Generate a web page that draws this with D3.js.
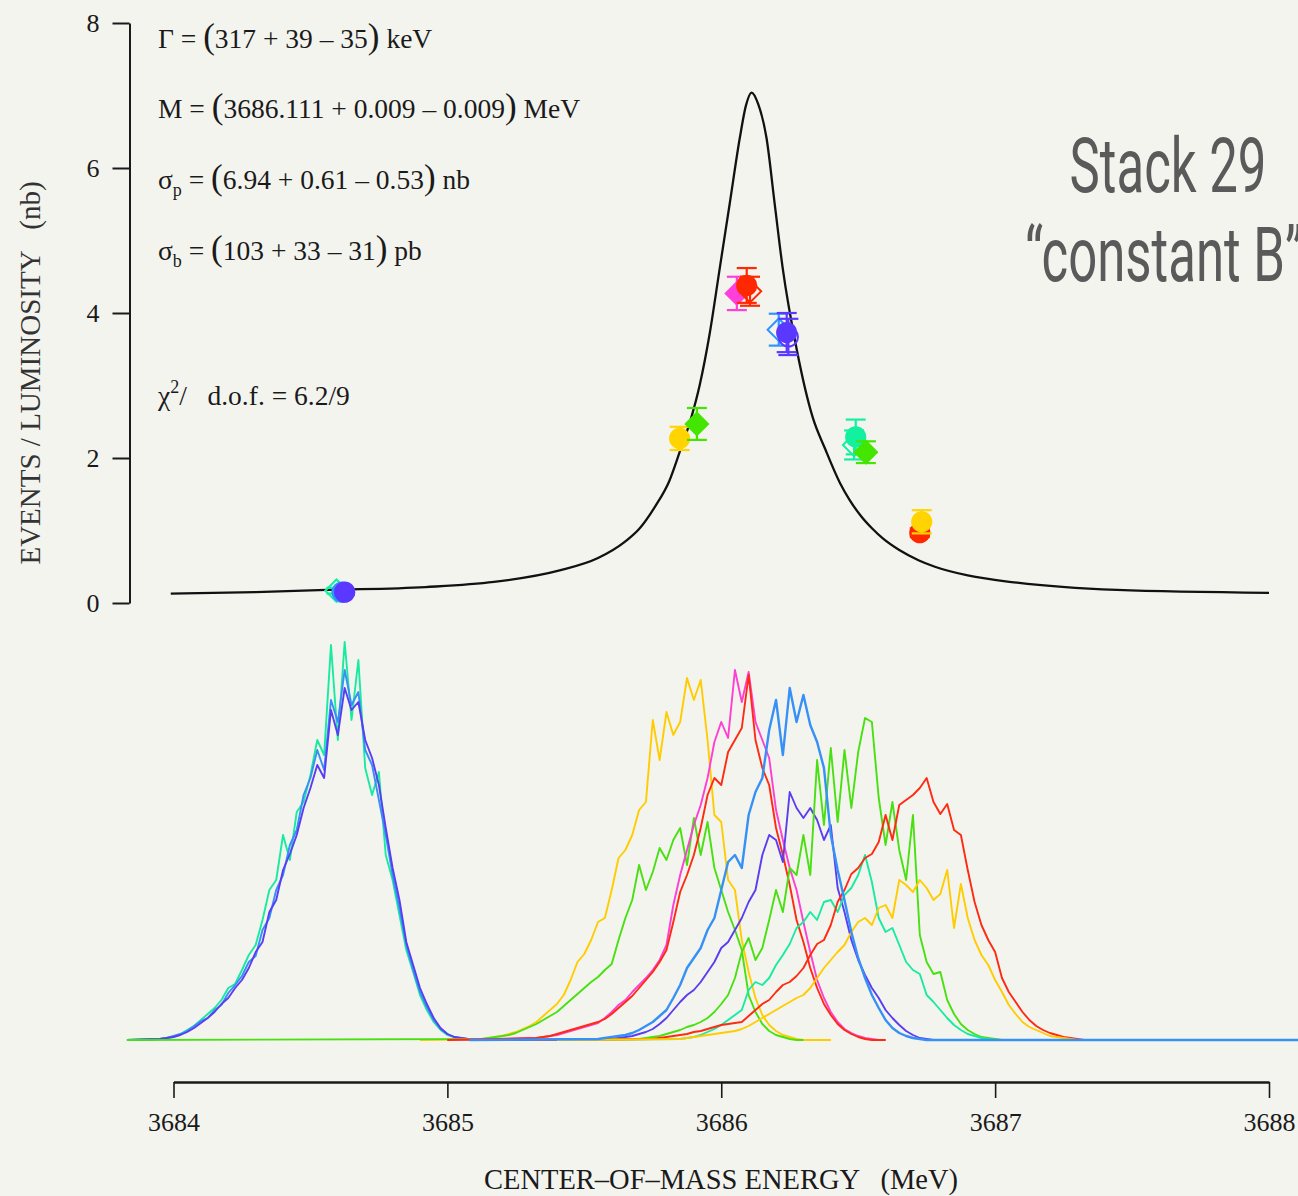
<!DOCTYPE html>
<html>
<head>
<meta charset="utf-8">
<script src="https://cdn.jsdelivr.net/npm/d3@7"></script>
<style>
  html, body { margin: 0; padding: 0; background: #f4f4ef; overflow: hidden; }
  svg { display: block; }
  text { white-space: pre; }
</style>
</head>
<body>
<svg id="chart" width="1298" height="1196"></svg>
<script>
// ---------------- data ----------------
const yTicks = [0, 2, 4, 6, 8];
const xTicks = [3684, 3685, 3686, 3687, 3688];

// fitted line shape (energy in MeV, cross-section in nb)
const fitEnergy = [3683.99, 3684.30, 3684.56, 3684.92, 3685.17, 3685.41, 3685.55, 3685.65, 3685.70,
  3685.76, 3685.81, 3685.848, 3685.89, 3685.921, 3685.958, 3685.995, 3686.031, 3686.068, 3686.09,
  3686.111, 3686.135, 3686.165, 3686.195, 3686.224, 3686.276, 3686.334, 3686.38, 3686.433, 3686.469,
  3686.51, 3686.553, 3686.59, 3686.65, 3686.72, 3686.78, 3686.90, 3687.08, 3687.445, 3688.0];
const fitValue = [0.13, 0.15, 0.18, 0.22, 0.29, 0.45, 0.62, 0.85, 1.02,
  1.34, 1.68, 2.08, 2.55, 3.00, 3.72, 4.63, 5.51, 6.42, 6.86,
  7.04, 6.88, 6.42, 5.51, 4.63, 3.49, 2.56, 2.12, 1.66, 1.42,
  1.20, 1.02, 0.89, 0.73, 0.59, 0.50, 0.38, 0.28, 0.18, 0.14];

// measured points
const pointEnergy = [3684.595, 3684.615, 3684.625, 3685.848, 3685.911, 3686.057, 3686.105, 3686.093,
  3686.210, 3686.245, 3686.239, 3686.485, 3686.491, 3686.528, 3686.725, 3686.732];
const pointValue  = [0.17, 0.15, 0.15, 2.27, 2.47, 4.27, 4.30, 4.38, 3.77, 3.67, 3.73, 2.18, 2.29, 2.08, 0.97, 1.12];
const pointError  = [0.04, 0.04, 0.04, 0.16, 0.22, 0.23, 0.20, 0.24, 0.22, 0.25, 0.27, 0.20, 0.24, 0.15, 0.06, 0.16];
const pointColor  = ["teal", "azure", "violet", "yellow", "green", "magenta", "red", "red",
  "azure", "violet", "violet", "teal", "teal", "green", "red", "yellow"];
const pointShape  = ["diamond", "circle", "circle", "circle", "diamond", "diamond", "diamond", "circle",
  "diamond", "circle", "circle", "diamond", "circle", "diamond", "circle", "circle"];
const pointFilled = [false, true, true, true, true, true, false, true, false, false, true, false, true, true, true, true];

// beam energy spread histograms (bin width 0.025 MeV, first bin centre, counts)
const binWidth = 0.025;
const histName  = ["tealL", "azureL", "violetL", "yellowL", "greenL", "magentaC", "redC", "violetC",
  "greenR", "tealR", "redR", "yellowR", "azureC"];
const histColor = ["teal", "azure", "violet", "yellow", "green", "magenta", "red", "violet",
  "green", "teal", "red", "yellow", "azure"];
const histStart = [3683.95, 3683.95, 3683.95, 3685.125, 3685.125, 3685.325, 3685.325, 3685.6,
  3685.7, 3685.85, 3685.75, 3685.85, 3685.55];
const histLo = [3683.83, 3683.83, 3683.83, 3684.9, 3683.83, 3685.0, 3685.0, 3685.2,
  3685.3, 3685.4, 3685.3, 3685.4, 3685.08];
const histHi = [3685.3, 3685.3, 3685.3, 3686.4, 3686.3, 3686.6, 3686.6, 3687.0,
  3687.2, 3687.1, 3687.3, 3687.3, 3688.2];

const tealL = [1,2,3,6,10,14,20,26,32,40,52,56,70,85,95,120,150,160,205,180,228,238,265,300,285,
  395,300,398,320,380,272,245,268,185,160,125,90,68,45,30,18,10,5,3,1,0,0,0,0];
const azureL = [1,2,4,6,9,14,19,22,30,35,47,55,64,78,84,110,122,150,165,195,210,245,262,290,270,
  340,318,370,335,348,290,275,240,205,165,132,95,70,48,33,20,11,6,3,2,1,0,0,0];
const violetL = [1,2,3,5,8,12,17,22,28,36,42,52,60,72,88,98,128,140,170,186,205,232,252,275,262,
  330,305,352,330,338,300,282,255,212,172,140,98,75,52,36,22,12,6,3,2,1,0,0,0];
const yellowL = [1,2,3,4,6,8,11,14,18,24,30,36,45,60,78,86,100,118,122,150,182,190,205,230,238,
  320,280,328,305,318,362,340,360,300,225,218,160,150,100,68,42,25,15,9,5,3,1];
const greenL = [1,2,3,4,5,7,10,13,16,20,24,28,34,40,46,52,58,63,70,76,100,122,140,175,150,
  168,192,180,200,212,175,222,185,218,172,150,128,110,90,45,28,16,9,5,3,1,0];
const magentaC = [2,3,4,5,7,9,11,13,15,17,22,28,35,40,48,55,62,70,80,95,135,165,190,215,235,
  262,298,318,302,370,338,368,318,300,282,230,200,172,150,118,88,60,42,28,18,11,7,4,2,1];
const redC = [2,3,4,6,8,10,12,14,16,18,21,26,32,38,44,52,60,68,78,90,118,148,165,185,212,
  245,262,255,288,300,312,365,300,272,255,212,185,155,120,98,72,52,36,25,16,10,6,3,1];
const violetC = [1,2,3,4,6,8,11,16,22,30,38,45,50,58,68,78,92,98,110,122,138,150,185,205,200,
  178,248,232,222,232,220,200,215,152,128,100,80,65,52,42,30,22,15,9,5,2,1];
const greenR = [1,2,3,4,6,8,10,13,15,18,22,28,36,45,62,88,102,80,92,120,150,128,172,165,205,
  165,280,215,292,218,290,232,288,322,318,242,195,238,190,160,225,105,78,66,68,40,26,16,10,6,3,2,1];
const tealR = [1,2,3,5,8,11,15,20,25,30,50,58,55,62,75,85,96,112,118,128,120,138,140,128,145,
  152,165,185,158,122,108,112,95,78,70,66,45,38,30,22,15,10,6,4,2,1];
const redR = [1,2,3,4,5,6,8,9,11,13,15,16,17,18,24,30,36,40,48,55,58,64,72,85,96,100,115,138,150,166,
  172,182,186,198,225,200,235,240,245,252,262,238,226,236,210,205,170,138,115,100,
  88,62,48,38,28,20,14,10,7,5,3,2,1];
const yellowR = [1,2,3,4,5,6,7,8,9,11,14,18,22,26,30,34,38,42,45,52,62,72,80,88,95,108,118,122,115,132,
  135,122,160,155,148,160,152,140,146,170,112,156,122,100,85,75,60,48,35,26,18,13,10,7,4,3,2,1];
const azureC = [1,2,3,4,5,7,10,14,18,24,30,42,55,72,82,92,110,122,150,178,185,172,225,248,262,
  310,340,285,352,318,345,315,298,272,205,170,140,108,82,62,45,32,20,12,7,4,2,1];

const histCounts = [tealL, azureL, violetL, yellowL, greenL, magentaC, redC, violetC,
  greenR, tealR, redR, yellowR, azureC];

const palette = {
  teal: "#18eaa0", azure: "#3690f6", violet: "#5a3df2", yellow: "#ffcc00",
  green: "#48e010", magenta: "#ff3ed2", red: "#ff2a12"
};
const markerPalette = {
  teal: "#12f0a0", azure: "#2f95ff", violet: "#5a38ff", yellow: "#ffd400",
  green: "#44e600", magenta: "#ff40d8", red: "#ff2800"
};

// ---------------- layout ----------------
const svg = d3.select("#chart");
const ink = "#1a1a1a";
const serif = "'Liberation Serif', 'Times New Roman', serif";

svg.append("rect").attr("width", 1298).attr("height", 1196).attr("fill", "#f4f4ef");

const x = d3.scaleLinear().domain([3684, 3688]).range([173.5, 1269]);
const y = d3.scaleLinear().domain([0, 8]).range([603, 23]);
const h = d3.scaleLinear().domain([0, 400]).range([1040, 640]);

// ---------------- histograms ----------------
const histLine = d3.line().x(d => x(d[0])).y(d => h(d[1]));
const histG = svg.append("g").attr("fill", "none").attr("stroke-width", 1.9)
  .attr("stroke-linejoin", "round");
histCounts.forEach((counts, i) => {
  const pts = [[histLo[i], 0]];
  counts.forEach((c, k) => pts.push([histStart[i] + k * binWidth, c]));
  pts.push([histStart[i] + counts.length * binWidth, 0]);
  pts.push([histHi[i], 0]);
  histG.append("path")
    .attr("class", "hist " + histName[i])
    .attr("d", histLine(pts))
    .attr("stroke", palette[histColor[i]])
    .attr("stroke-width", i === histCounts.length - 1 ? 2.4 : 1.9);
});

// ---------------- y axis ----------------
const yAxis = d3.axisLeft(y).tickValues(yTicks).tickSize(17).tickSizeOuter(0).tickPadding(13);
const gy = svg.append("g").attr("transform", "translate(129.5,0)").call(yAxis);
gy.select(".domain").attr("stroke", ink).attr("stroke-width", 2);
gy.selectAll(".tick line").attr("stroke", ink).attr("stroke-width", 2);
gy.selectAll(".tick text").attr("font-family", serif).attr("font-size", 26).attr("fill", ink);

// ---------------- x axis ----------------
const xAxis = d3.axisBottom(x).tickValues(xTicks).tickFormat(d3.format("d"))
  .tickSize(16).tickSizeOuter(0).tickPadding(15);
const gx = svg.append("g").attr("transform", "translate(0,1082)").call(xAxis);
gx.select(".domain").attr("stroke", ink).attr("stroke-width", 2.5);
gx.selectAll(".tick line").attr("stroke", ink).attr("stroke-width", 1.6);
gx.selectAll(".tick text").attr("font-family", serif).attr("font-size", 26).attr("fill", ink);

svg.append("text")
  .attr("x", 721).attr("y", 1189)
  .attr("text-anchor", "middle")
  .attr("font-family", serif).attr("font-size", 28.5).attr("fill", ink)
  .text("CENTER\u2013OF\u2013MASS ENERGY   (MeV)");

svg.append("text")
  .attr("transform", "translate(40,373) rotate(-90)")
  .attr("text-anchor", "middle")
  .attr("font-family", serif).attr("font-size", 29).attr("fill", "#333")
  .text("EVENTS / LUMINOSITY   (nb)");

// ---------------- fitted curve ----------------
const fitLine = d3.line().x((d, i) => x(fitEnergy[i])).y(d => y(d)).curve(d3.curveMonotoneX);
svg.append("path")
  .attr("d", fitLine(fitValue))
  .attr("fill", "none").attr("stroke", "#111").attr("stroke-width", 2.3);

// ---------------- measured points ----------------
const circleSym = d3.symbol().type(d3.symbolCircle).size(290);
const squareSym = d3.symbol().type(d3.symbolSquare).size(250);
const ptG = svg.append("g");
pointEnergy.forEach((e, i) => {
  const col = markerPalette[pointColor[i]];
  const cx = x(e), cy = y(pointValue[i]);
  const top = y(pointValue[i] + pointError[i]), bot = y(pointValue[i] - pointError[i]);
  const g = ptG.append("g");
  g.append("line").attr("x1", cx).attr("x2", cx).attr("y1", top).attr("y2", bot)
    .attr("stroke", col).attr("stroke-width", 2.2);
  [top, bot].forEach(yy => g.append("line")
    .attr("x1", cx - 10).attr("x2", cx + 10).attr("y1", yy).attr("y2", yy)
    .attr("stroke", col).attr("stroke-width", 2.2));
  const isDiamond = pointShape[i] === "diamond";
  g.append("path")
    .attr("d", isDiamond ? squareSym() : circleSym())
    .attr("transform", `translate(${cx},${cy})` + (isDiamond ? " rotate(45)" : ""))
    .attr("fill", pointFilled[i] ? col : "none")
    .attr("stroke", col).attr("stroke-width", 2);
});

// ---------------- fit results ----------------
const noteX = 158;
function note(yBase, parts) {
  const t = svg.append("text").attr("x", noteX).attr("y", yBase)
    .attr("font-family", serif).attr("font-size", 27.5).attr("fill", ink);
  parts.forEach(p => {
    const s = t.append("tspan").text(p.t);
    if (p.big) s.attr("font-size", 35).attr("font-weight", 300);
    if (p.sub) s.attr("font-size", 18).attr("dy", 7);
    if (p.sup) s.attr("font-size", 18).attr("dy", -12);
    if (p.back) s.attr("dy", p.back);
  });
}
note(48, [{t: "\u0393 = "}, {t: "(", big: true}, {t: "317 + 39 \u2013 35"}, {t: ")", big: true}, {t: " keV"}]);
note(118, [{t: "M = "}, {t: "(", big: true}, {t: "3686.111 + 0.009 \u2013 0.009"}, {t: ")", big: true}, {t: " MeV"}]);
note(189, [{t: "\u03c3"}, {t: "p", sub: true}, {t: " = ", back: -7}, {t: "(", big: true}, {t: "6.94 + 0.61 \u2013 0.53"}, {t: ")", big: true}, {t: " nb"}]);
note(260, [{t: "\u03c3"}, {t: "b", sub: true}, {t: " = ", back: -7}, {t: "(", big: true}, {t: "103 + 33 \u2013 31"}, {t: ")", big: true}, {t: " pb"}]);
note(405, [{t: "\u03c7"}, {t: "2", sup: true}, {t: "/   d.o.f. = 6.2/9", back: 12}]);

// ---------------- title ----------------
const sans = "Roboto, 'Open Sans', sans-serif";
svg.append("text")
  .attr("transform", "translate(1168,192) scale(0.67,1)")
  .attr("text-anchor", "middle")
  .attr("font-family", sans).attr("font-size", 76).attr("fill", "#5a5a5a")
  .text("Stack 29");
svg.append("text")
  .attr("transform", "translate(1025,281) scale(0.67,1)")
  .attr("text-anchor", "start")
  .attr("font-family", sans).attr("font-size", 76).attr("fill", "#5a5a5a")
  .text("\u201cconstant B\u201d");
</script>
</body>
</html>
